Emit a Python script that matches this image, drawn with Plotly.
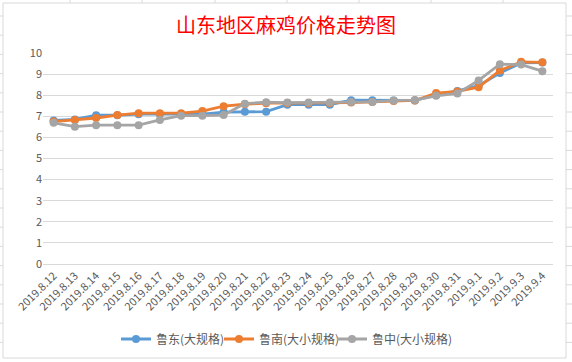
import plotly.graph_objects as go

dates = ["2019.8.12", "2019.8.13", "2019.8.14", "2019.8.15", "2019.8.16", "2019.8.17",
         "2019.8.18", "2019.8.19", "2019.8.20", "2019.8.21", "2019.8.22", "2019.8.23",
         "2019.8.24", "2019.8.25", "2019.8.26", "2019.8.27", "2019.8.28", "2019.8.29",
         "2019.8.30", "2019.8.31", "2019.9.1", "2019.9.2", "2019.9.3", "2019.9.4"]

ludong = [6.8, 6.85, 7.05, 7.05, 7.1, 7.1, 7.1, 7.1, 7.2, 7.22, 7.22, 7.55,
          7.55, 7.55, 7.76, 7.76, 7.75, 7.75, 8.0, 8.2, 8.45, 9.05, 9.53, 9.55]
lunan = [6.75, 6.83, 6.92, 7.06, 7.15, 7.15, 7.15, 7.25, 7.48, 7.57, 7.62, 7.62,
         7.62, 7.62, 7.65, 7.68, 7.72, 7.75, 8.1, 8.18, 8.38, 9.17, 9.58, 9.56]
luzhong = [6.69, 6.51, 6.58, 6.58, 6.58, 6.83, 7.03, 7.03, 7.06, 7.6, 7.67, 7.65,
           7.65, 7.65, 7.68, 7.68, 7.75, 7.77, 7.97, 8.08, 8.7, 9.47, 9.45, 9.14]

names = ["鲁东(大规格)", "鲁南(大小规格)", "鲁中(大小规格)"]
colors = ["#5B9BD5", "#ED7D31", "#A5A5A5"]
yticks = list(range(0, 11))

FONT = "Noto Sans CJK SC"

W, H = 572, 362
L, R, T, B = 43, 553, 53, 264


def px(x):
    return (x - L) / (R - L)


def py(y):
    return (B - y) / (B - T)


legend_ids = ["legend", "legend2", "legend3"]
legend_x = [116, 219, 332]

fig = go.Figure()
for name, vals, c, lid in zip(names, [ludong, lunan, luzhong], colors, legend_ids):
    fig.add_trace(go.Scatter(
        x=dates, y=vals, name=name, mode="lines+markers",
        line=dict(color=c, width=2.8),
        marker=dict(color=c, size=8, symbol="circle"),
        legend=lid,
    ))

shapes = [
    dict(type="rect", xref="paper", yref="paper", x0=px(3), x1=px(566), y0=py(358), y1=py(3),
         line=dict(color="#d9d9d9", width=1), fillcolor="rgba(0,0,0,0)", layer="below"),
]
# spreadsheet cell grid peeking outside the chart
for k in range(19):
    yy = 16 + 19.2 * k
    if yy > 358:
        break
    shapes.append(dict(type="line", xref="paper", yref="paper", x0=px(0), x1=px(3), y0=py(yy), y1=py(yy),
                       line=dict(color="#d9d9d9", width=1)))
    shapes.append(dict(type="line", xref="paper", yref="paper", x0=px(566), x1=px(572), y0=py(yy), y1=py(yy),
                       line=dict(color="#d9d9d9", width=1)))
for xx in [70, 142, 215, 287, 359, 431, 503]:
    shapes.append(dict(type="line", xref="paper", yref="paper", x0=px(xx), x1=px(xx), y0=py(0), y1=py(3),
                       line=dict(color="#d9d9d9", width=1)))

legend_style = dict(orientation="h", yanchor="middle", y=py(339), xanchor="left",
                    font=dict(size=12, color="#595959"), itemwidth=30,
                    bgcolor="rgba(0,0,0,0)", borderwidth=0)

fig.update_layout(
    width=W, height=H,
    margin=dict(l=L, r=W - R, t=T, b=H - B, autoexpand=False),
    paper_bgcolor="white", plot_bgcolor="white",
    font=dict(family=FONT, color="#595959", size=11),
    title=dict(text="山东地区麻鸡价格走势图", x=0.5, xref="container", xanchor="center",
               y=1 - 26 / H, yanchor="middle",
               font=dict(family=FONT, size=20, color="#FF0000")),
    xaxis=dict(type="category", tickangle=-45, showgrid=False, showline=True,
               linecolor="#d9d9d9", linewidth=1, ticks="", automargin=False,
               tickfont=dict(size=11, color="#595959"), range=[-0.5, len(dates) - 0.5]),
    yaxis=dict(range=[0, 10], tickvals=yticks, showgrid=True, gridcolor="#d9d9d9",
               gridwidth=1, zeroline=False, showline=False, ticks="", automargin=False,
               tickfont=dict(size=11, color="#595959")),
    legend=dict(legend_style, x=px(legend_x[0])),
    legend2=dict(legend_style, x=px(legend_x[1])),
    legend3=dict(legend_style, x=px(legend_x[2])),
    shapes=shapes,
    showlegend=True,
)

fig.write_html("out.html", config={"displayModeBar": False},
               post_script="document.body.style.margin='0';document.body.style.overflow='hidden';")
